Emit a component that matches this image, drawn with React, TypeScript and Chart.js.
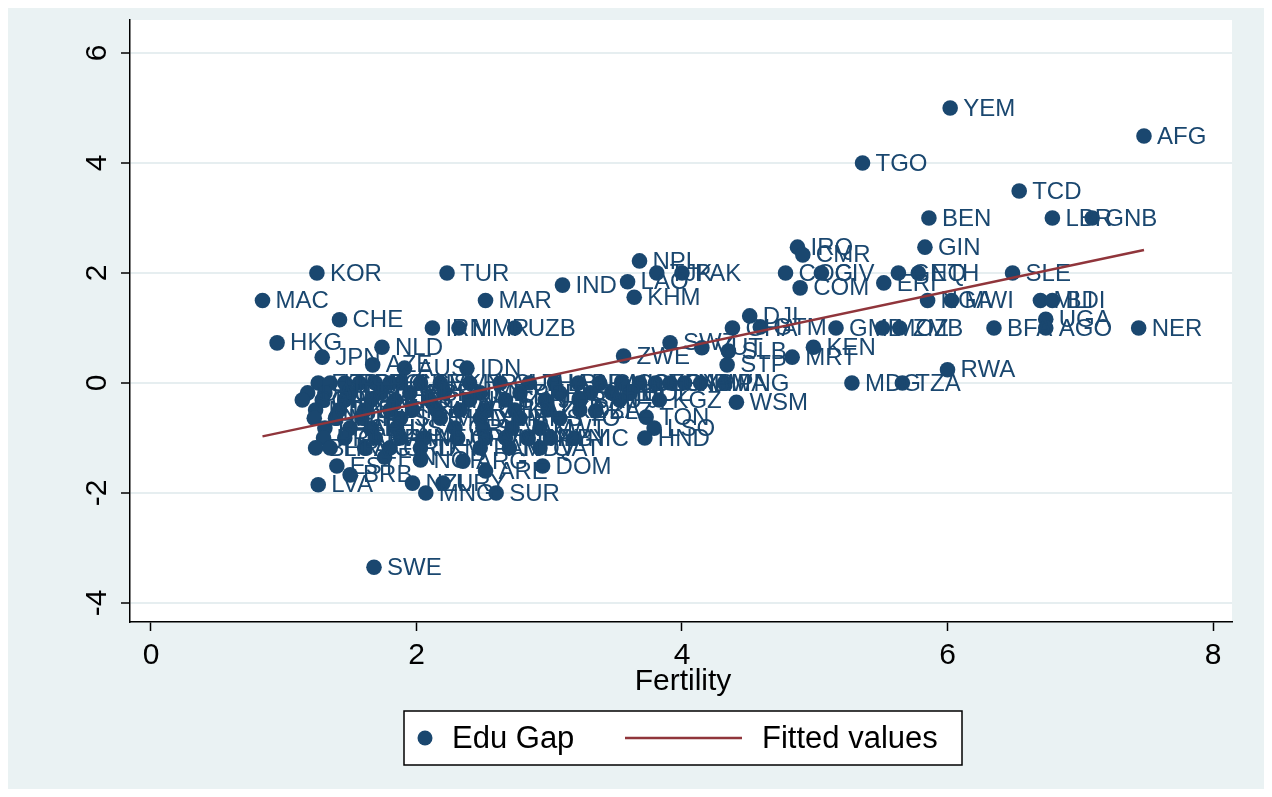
import React, { useEffect, useRef } from "react";
import { Chart, registerables } from "chart.js";
Chart.register(...registerables);

// ---- data ----
const countries = [
  "YEM", "AFG", "TGO", "TCD", "BEN", "LBR", "GNB", "GIN", "SLE", "ERI",
  "GNQ", "ETH", "NGA", "MWI", "MLI", "BDI", "UGA", "BFA", "AGO", "NER",
  "GMB", "MOZ", "ZMB", "RWA", "MDG", "TZA", "KEN", "MRT", "DJI", "GHA",
  "GTM", "IRQ", "CMR", "COG", "CIV", "COM", "NPL", "LAO", "KHM", "TJK",
  "PAK", "IND", "SWZ", "VUT", "SLB", "STP", "ZWE", "PNG", "WSM", "TON",
  "LSO", "HND", "BLZ", "TUR", "KOR", "MAC", "CHE", "HKG", "MAR", "IRN",
  "MMR", "UZB", "NLD", "JPN", "AZE", "AUS", "IDN", "ARG", "ARE", "DOM",
  "SUR", "MNG", "NZL", "URY", "EST", "BRB", "LVA", "SWE", "FIN", "NOR",
  // dense cluster
  "ESP", "ITA", "PRT", "GRC", "POL", "HUN", "CZE", "SVK", "SVN", "HRV", "CUB",
  "THA", "LBN", "BRA", "CHL", "COL", "SYR", "EGY", "GAB", "NAM", "BWA",
  "DEU", "AUT", "BEL", "CAN", "GBR", "RUS", "MEX", "PER", "ECU", "VEN", "PHL", "BOL",
  "SGP", "BIH", "ROU", "BGR", "LTU", "CHN", "MYS", "TUN", "JOR", "SAU", "FJI", "KGZ",
  "MDA", "UKR", "BLR", "DNK", "ISL", "ALB", "ARM", "GEO", "KAZ", "LKA", "DZA",
  "CYP", "MLT", "IRL", "SRB", "MKD", "VNM", "BHS", "TTO",
  "FRA", "ISR", "LUX", "USA", "CRI", "SLV", "JAM", "KWT",
  "PRI", "CUW", "BRN", "MNE", "MUS", "CPV", "OMN", "GUY", "PRY", "LBY", "NIC",
  "BHR", "LCA", "VCT", "GRD", "TKM", "PAN", "MDV", "QAT",
];

const fertility = [
  6.02, 7.48, 5.36, 6.54, 5.86, 6.79, 7.09, 5.83, 6.49, 5.52,
  5.63, 5.78, 5.85, 6.03, 6.70, 6.79, 6.74, 6.35, 6.74, 7.44,
  5.16, 5.51, 5.64, 6.00, 5.28, 5.66, 4.99, 4.83, 4.51, 4.38,
  4.59, 4.87, 4.91, 4.78, 5.05, 4.89, 3.68, 3.59, 3.64, 3.81,
  4.00, 3.10, 3.91, 4.15, 4.35, 4.34, 3.56, 4.32, 4.41, 3.73,
  3.79, 3.72, 3.35, 2.23, 1.25, 0.84, 1.42, 0.95, 2.52, 2.12,
  2.32, 2.74, 1.74, 1.29, 1.67, 1.91, 2.38, 2.35, 2.52, 2.95,
  2.60, 2.07, 1.97, 2.20, 1.40, 1.50, 1.26, 1.68, 1.76, 2.03,
  1.26, 1.35, 1.46, 1.57, 1.69, 1.80, 1.88, 2.03, 2.18, 2.40, 2.63,
  2.85, 3.04, 3.22, 3.38, 3.55, 3.68, 3.80, 3.91, 4.02, 4.14,
  1.18, 1.31, 1.50, 1.73, 1.95, 2.21, 2.48, 2.78, 3.08, 3.31, 3.47, 3.61,
  1.14, 1.29, 1.46, 1.66, 1.84, 2.10, 2.40, 2.67, 2.97, 3.23, 3.53, 3.83,
  1.24, 1.42, 1.61, 1.80, 1.97, 2.15, 2.33, 2.52, 2.74, 2.99, 3.23,
  1.23, 1.39, 1.59, 1.88, 2.18, 2.48, 2.78, 3.08,
  1.31, 1.50, 1.66, 1.85, 2.29, 2.50, 2.72, 2.93,
  1.30, 1.46, 1.69, 1.88, 2.06, 2.31, 2.52, 2.67, 2.84, 3.01, 3.19,
  1.24, 1.35, 1.61, 1.80, 2.03, 2.48, 2.70, 2.93,
];

const eduGap = [
  5.00, 4.49, 4.00, 3.49, 3.00, 3.00, 3.00, 2.47, 2.00, 1.82,
  2.00, 2.00, 1.50, 1.50, 1.50, 1.50, 1.16, 1.00, 1.00, 1.00,
  1.00, 1.00, 1.00, 0.24, 0.00, 0.00, 0.65, 0.47, 1.22, 1.00,
  1.02, 2.47, 2.33, 2.00, 2.00, 1.73, 2.22, 1.84, 1.56, 2.00,
  2.00, 1.78, 0.73, 0.64, 0.58, 0.33, 0.49, 0.00, -0.35, -0.62,
  -0.82, -1.00, -0.51, 2.00, 2.00, 1.50, 1.15, 0.73, 1.50, 1.00,
  1.00, 1.00, 0.65, 0.47, 0.33, 0.27, 0.27, -1.42, -1.60, -1.51,
  -2.00, -2.00, -1.82, -1.82, -1.51, -1.67, -1.85, -3.35, -1.35, -1.40,
  0, 0, 0, 0, 0, 0, 0, 0, 0, 0, 0,
  0, 0, 0, 0, 0, 0, 0, 0, 0, 0,
  -0.18, -0.18, -0.18, -0.18, -0.18, -0.18, -0.18, -0.18, -0.18, -0.18, -0.18, -0.18,
  -0.31, -0.31, -0.31, -0.31, -0.31, -0.31, -0.31, -0.31, -0.31, -0.31, -0.31, -0.31,
  -0.49, -0.49, -0.49, -0.49, -0.49, -0.49, -0.49, -0.49, -0.49, -0.49, -0.49,
  -0.64, -0.64, -0.64, -0.64, -0.64, -0.64, -0.64, -0.64,
  -0.82, -0.82, -0.82, -0.82, -0.82, -0.82, -0.82, -0.82,
  -1.00, -1.00, -1.00, -1.00, -1.00, -1.00, -1.00, -1.00, -1.00, -1.00, -1.00,
  -1.18, -1.18, -1.18, -1.18, -1.18, -1.18, -1.18, -1.18,
];

const fitFertility = [0.84, 7.48];
const fitValues = [-0.97, 2.42];

const xTicks = [0, 2, 4, 6, 8];
const yTicks = [-4, -2, 0, 2, 4, 6];
const xTitle = "Fertility";
const legendLabels = ["Edu Gap", "Fitted values"];

// ---- styles ----
const NAVY = "#1a476f";
const MAROON = "#90353b";
const BG = "#eaf2f3";
const FONT = '"Liberation Sans", Arial, sans-serif';

const stataPlugin = {
  id: "stataLook",
  beforeDraw(chart: any) {
    const { ctx, chartArea: a, width, height } = chart;
    ctx.save();
    ctx.fillStyle = BG;
    ctx.fillRect(0, 0, width, height);
    ctx.fillStyle = "#ffffff";
    ctx.fillRect(a.left, a.top, a.right - a.left, a.bottom - a.top);
    ctx.restore();
  },
  afterDatasetDraw(chart: any, args: any) {
    if (args.index !== 1) return;
    const { ctx } = chart;
    ctx.save();
    ctx.font = `24px ${FONT}`;
    ctx.fillStyle = NAVY;
    ctx.textAlign = "left";
    ctx.textBaseline = "middle";
    args.meta.data.forEach((pt: any, i: number) => {
      ctx.fillText(countries[i], pt.x + 13, pt.y + 1);
    });
    ctx.restore();
  },
  afterDraw(chart: any) {
    const { ctx, chartArea: a } = chart;
    const ys = chart.scales.y;
    ctx.save();
    // rotated y tick labels
    ctx.font = `30px ${FONT}`;
    ctx.fillStyle = "#000";
    yTicks.forEach((v) => {
      const py = ys.getPixelForValue(v);
      ctx.save();
      ctx.translate(a.left - 32, py);
      ctx.rotate(-Math.PI / 2);
      ctx.textAlign = "center";
      ctx.textBaseline = "middle";
      ctx.fillText(String(v), 0, 0);
      ctx.restore();
    });
    // x title
    ctx.textAlign = "center";
    ctx.textBaseline = "middle";
    ctx.fillText(xTitle, (a.left + a.right) / 2 + 2, a.bottom + 60);

    // legend
    const lx = 396, ly = 703, lw = 558, lh = 54;
    ctx.fillStyle = "#ffffff";
    ctx.fillRect(lx, ly, lw, lh);
    ctx.strokeStyle = "#000";
    ctx.lineWidth = 1.5;
    ctx.strokeRect(lx, ly, lw, lh);
    const cy = ly + lh / 2;
    ctx.fillStyle = NAVY;
    ctx.beginPath();
    ctx.arc(lx + 21, cy, 7.5, 0, Math.PI * 2);
    ctx.fill();
    ctx.font = `31px ${FONT}`;
    ctx.fillStyle = "#000";
    ctx.textAlign = "left";
    ctx.fillText(legendLabels[0], lx + 48, cy + 1);
    ctx.strokeStyle = MAROON;
    ctx.lineWidth = 2.5;
    ctx.beginPath();
    ctx.moveTo(lx + 221, cy);
    ctx.lineTo(lx + 338, cy);
    ctx.stroke();
    ctx.fillText(legendLabels[1], lx + 358, cy + 1);
    ctx.restore();
  },
};

export default function App() {
  const ref = useRef<HTMLCanvasElement | null>(null);

  useEffect(() => {
    if (!ref.current) return;
    const points = fertility.map((f, i) => ({ x: f, y: eduGap[i] }));
    const fit = fitFertility.map((f, i) => ({ x: f, y: fitValues[i] }));
    const chart = new Chart(ref.current, {
      type: "scatter",
      data: {
        datasets: [
          {
            type: "line",
            label: legendLabels[1],
            data: fit,
            borderColor: MAROON,
            borderWidth: 2.5,
            pointRadius: 0,
            fill: false,
            tension: 0,
          } as any,
          {
            type: "scatter",
            label: legendLabels[0],
            data: points,
            backgroundColor: NAVY,
            borderWidth: 0,
            pointRadius: 7.8,
            pointHoverRadius: 7.8,
          },
        ],
      },
      options: {
        animation: false,
        responsive: false,
        devicePixelRatio: 1,
        layout: { padding: { top: 12, right: 32, bottom: 0, left: 0 } },
        plugins: {
          legend: { display: false },
          tooltip: { enabled: false },
          title: { display: false },
        },
        scales: {
          x: {
            type: "linear",
            min: -0.158,
            max: 8.143,
            afterBuildTicks: (s: any) => {
              s.ticks = xTicks.map((v) => ({ value: v }));
            },
            afterFit: (s: any) => {
              s.height = 167;
            },
            ticks: {
              autoSkip: false,
              maxRotation: 0,
              color: "#000",
              padding: 7,
              font: { family: FONT, size: 30 },
            },
            grid: {
              drawOnChartArea: false,
              drawTicks: true,
              tickLength: 9,
              tickColor: "#000",
              tickWidth: 1.5,
            },
            border: { display: true, color: "#000", width: 1.5 },
          },
          y: {
            type: "linear",
            min: -4.345,
            max: 6.6,
            afterBuildTicks: (s: any) => {
              s.ticks = yTicks.map((v) => ({ value: v }));
            },
            afterFit: (s: any) => {
              s.width = 122;
            },
            ticks: { display: false },
            grid: {
              color: "#e6eef0",
              lineWidth: 2,
              drawTicks: true,
              tickLength: 9,
              tickColor: "#000",
              tickWidth: 1.5,
            },
            border: { display: true, color: "#000", width: 1.5 },
          },
        },
      },
      plugins: [stataPlugin],
    });
    return () => chart.destroy();
  }, []);

  return (
    <div style={{ width: 1256, height: 781, background: BG }}>
      <canvas ref={ref} width={1256} height={781} style={{ display: "block" }} />
    </div>
  );
}
